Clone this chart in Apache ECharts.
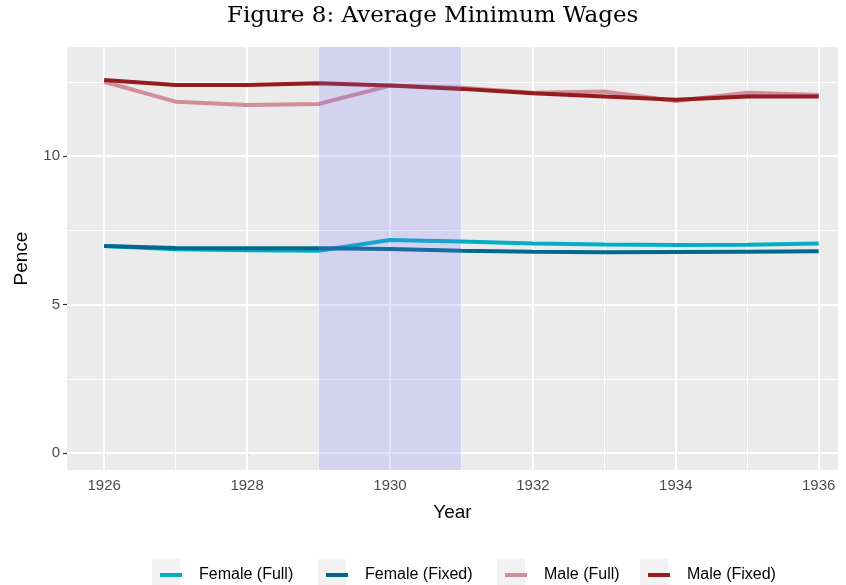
<!DOCTYPE html>
<html>
<head>
<meta charset="utf-8">
<script src="https://cdn.jsdelivr.net/npm/echarts@6/dist/echarts.min.js"></script>
<style>
  html, body { margin: 0; padding: 0; background: #fff; }
  #chart { width: 846px; height: 585px; }
</style>
</head>
<body>
<div id="chart"></div>
<script>
// data
var years = [1926, 1927, 1928, 1929, 1930, 1931, 1932, 1933, 1934, 1935, 1936];
var femaleFull = [6.97, 6.86, 6.83, 6.81, 7.17, 7.12, 7.05, 7.02, 7.0, 7.01, 7.05];
var femaleFixed = [6.97, 6.9, 6.89, 6.89, 6.87, 6.81, 6.78, 6.76, 6.77, 6.78, 6.79];
var maleFull = [12.5, 11.83, 11.72, 11.75, 12.37, 12.3, 12.13, 12.17, 11.85, 12.13, 12.05];
var maleFixed = [12.56, 12.39, 12.39, 12.45, 12.37, 12.26, 12.11, 12.0, 11.89, 12.0, 12.0];
var xTicks = [1926, 1928, 1930, 1932, 1934, 1936];
var yTicks = [0, 5, 10];
var yGrid = [0, 2.5, 5, 7.5, 10, 12.5];
var band = [1929, 1931];

var names = ["Female (Full)", "Female (Fixed)", "Male (Full)", "Male (Fixed)"];
var colors = ["#00AFC4", "#006A8C", "#D18D98", "#951B1E"];
var values = [femaleFull, femaleFixed, maleFull, maleFixed];

var myChart = echarts.init(document.getElementById("chart"));

function pairs(arr) {
  return years.map(function (y, i) {
    return [y, arr[i]];
  });
}

var series = [];
// grid lines (drawn as mark lines so they can sit on odd years / half steps)
series.push({
  type: "line",
  data: [],
  z: 1,
  silent: true,
  markLine: {
    z: 1,
    silent: true,
    symbol: "none",
    label: { show: false },
    animation: false,
    data: years
      .map(function (y) {
        return { xAxis: y, lineStyle: { color: "#fff", type: "solid", width: y % 2 == 0 ? 2 : 1 } };
      })
      .concat(
        yGrid.map(function (v) {
          return { yAxis: v, lineStyle: { color: "#fff", type: "solid", width: v % 5 == 0 ? 2 : 1 } };
        })
      ),
  },
});

values.forEach(function (arr, i) {
  series.push({
    name: names[i],
    type: "line",
    data: pairs(arr),
    showSymbol: false,
    symbol: "none",
    z: 2,
    lineStyle: { color: colors[i], width: 4 },
    itemStyle: { color: colors[i] },
  });
});

// shaded period, drawn over the lines like in the original
series.push({
  type: "line",
  data: [],
  z: 10,
  silent: true,
  markArea: {
    z: 10,
    silent: true,
    itemStyle: { color: "rgba(120,115,255,0.2)" },
    data: [[{ xAxis: band[0] }, { xAxis: band[1] }]],
  },
});

var legendPos = [155, 321, 500, 643];
var legends = names.map(function (n, i) {
  return {
    data: [n],
    left: legendPos[i],
    top: 562,
    icon: "rect",
    itemWidth: 22,
    itemHeight: 4,
    itemGap: 0,
    selectedMode: false,
    textStyle: {
      fontFamily: "Liberation Sans",
      fontSize: 16,
      color: "#000",
      padding: [0, 0, 0, 12],
    },
  };
});

var graphics = [
  {
    type: "text",
    left: 227,
    top: 5,
    style: {
      text: "Figure 8: Average Minimum Wages",
      fontFamily: "DejaVu Serif",
      fontSize: 23,
      fill: "#000",
    },
  },
];
legendPos.forEach(function (x) {
  graphics.push({
    type: "rect",
    left: x - 3,
    top: 559,
    z: -1,
    shape: { width: 28, height: 28 },
    style: { fill: "#F2F2F2" },
  });
});

var option = {
  backgroundColor: "#fff",
  animation: false,
  graphic: graphics,
  legend: legends,
  grid: {
    left: 67,
    right: 8,
    top: 47,
    bottom: 115,
    outerBoundsMode: "none",
    containLabel: false,
    show: true,
    backgroundColor: "#EBEBEB",
    borderWidth: 0,
  },
  xAxis: {
    type: "value",
    min: 1925.48,
    max: 1936.27,
    name: "Year",
    nameLocation: "middle",
    nameGap: 33,
    nameTextStyle: { fontFamily: "Liberation Sans", fontSize: 19, color: "#000" },
    axisLine: { show: false },
    axisTick: { show: true, length: 4, lineStyle: { color: "#333", width: 1.2 }, customValues: xTicks },
    axisLabel: {
      customValues: xTicks,
      margin: 8,
      fontFamily: "Liberation Sans",
      fontSize: 15,
      color: "#4D4D4D",
      formatter: function (v) {
        return String(v);
      },
    },
    splitLine: { show: false },
  },
  yAxis: {
    type: "value",
    min: -0.572,
    max: 13.67,
    name: "Pence",
    nameLocation: "middle",
    nameGap: 36,
    nameTextStyle: { fontFamily: "Liberation Sans", fontSize: 19, color: "#000" },
    axisLine: { show: false },
    axisTick: { show: true, length: 4, lineStyle: { color: "#333", width: 1.2 }, customValues: yTicks },
    axisLabel: {
      customValues: yTicks,
      margin: 7,
      fontFamily: "Liberation Sans",
      fontSize: 15,
      color: "#4D4D4D",
    },
    splitLine: { show: false },
  },
  series: series,
};
option && myChart.setOption(option);
</script>
</body>
</html>
